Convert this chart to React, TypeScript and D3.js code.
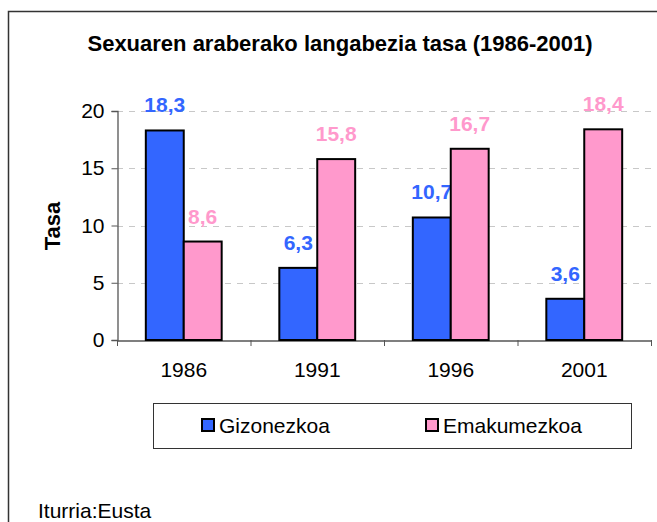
import React, { useEffect, useRef } from "react";
import * as d3 from "d3";

const years = ["1986", "1991", "1996", "2001"];
const seriesNames = ["Gizonezkoa", "Emakumezkoa"];
const gizonezkoa = [18.3, 6.3, 10.7, 3.6];
const emakumezkoa = [8.6, 15.8, 16.7, 18.4];
const yTicks = [0, 5, 10, 15, 20];
const colors = ["#3366FF", "#FF99CC"];

const W = 657;
const H = 522;
const FONT = "'Liberation Sans', Arial, sans-serif";
const FS = 21;

const App: React.FC = () => {
  const svgRef = useRef<SVGSVGElement>(null);

  useEffect(() => {
    if (!svgRef.current) return;
    const svg = d3.select(svgRef.current);
    svg.selectAll("*").remove();

    const left = 117;
    const right = 651;
    const top = 111;
    const bottom = 340;

    // outer frame (runs off the right and bottom edges)
    svg
      .append("rect")
      .attr("x", 8.5)
      .attr("y", 11.5)
      .attr("width", 700)
      .attr("height", 600)
      .attr("fill", "#fff")
      .attr("stroke", "#333")
      .attr("stroke-width", 1.5);

    const x = d3.scaleBand().domain(years).range([left, right]).paddingInner(0).paddingOuter(0);
    const inner = d3
      .scaleBand()
      .domain(seriesNames)
      .range([0, x.bandwidth()])
      .paddingOuter(0.76)
      .paddingInner(0);
    const y = d3.scaleLinear().domain([0, 20]).range([bottom, top]);

    // title
    svg
      .append("text")
      .attr("x", 340)
      .attr("y", 51)
      .attr("text-anchor", "middle")
      .attr("font-family", FONT)
      .attr("font-weight", "bold")
      .attr("font-size", 22)
      .text("Sexuaren araberako langabezia tasa (1986-2001)");

    // gridlines
    svg
      .append("g")
      .selectAll("line")
      .data(yTicks.filter((t) => t > 0))
      .join("line")
      .attr("x1", left)
      .attr("x2", right)
      .attr("y1", (d) => Math.round(y(d)) + 0.5)
      .attr("y2", (d) => Math.round(y(d)) + 0.5)
      .attr("stroke", "#c8c8c8")
      .attr("stroke-dasharray", "6,6");

    // y axis
    const yAxis = svg
      .append("g")
      .attr("transform", `translate(${left + 0.5},0)`)
      .call(d3.axisLeft(y).tickValues(yTicks).tickSize(6).tickPadding(7).tickFormat((d) => String(d)));
    yAxis.select(".domain").attr("stroke", "#555").attr("stroke-width", 1.3);
    yAxis.selectAll(".tick line").attr("stroke", "#555");
    yAxis
      .selectAll("text")
      .attr("font-family", FONT)
      .attr("font-size", FS)
      .attr("fill", "#000");

    // x axis
    const xAxis = svg
      .append("g")
      .attr("transform", `translate(0,${bottom + 0.5})`)
      .call(d3.axisBottom(x).tickSize(0).tickPadding(22));
    xAxis.select(".domain").attr("stroke", "#555").attr("stroke-width", 1.3);
    xAxis
      .selectAll("text")
      .attr("font-family", FONT)
      .attr("font-size", FS)
      .attr("fill", "#000");
    svg
      .append("g")
      .selectAll("line")
      .data([...years.map((yr) => x(yr) as number), right])
      .join("line")
      .attr("x1", (d) => d + 0.5)
      .attr("x2", (d) => d + 0.5)
      .attr("y1", bottom)
      .attr("y2", bottom + 6)
      .attr("stroke", "#555");

    // y title
    svg
      .append("text")
      .attr("transform", `translate(60,226) rotate(-90)`)
      .attr("text-anchor", "middle")
      .attr("font-family", FONT)
      .attr("font-weight", "bold")
      .attr("font-size", 22)
      .text("Tasa");

    // bars
    const series = [gizonezkoa, emakumezkoa];
    series.forEach((vals, si) => {
      const g = svg.append("g");
      g.selectAll("rect")
        .data(vals)
        .join("rect")
        .attr("x", (_, i) => (x(years[i]) as number) + (inner(seriesNames[si]) as number))
        .attr("y", (d) => y(d))
        .attr("width", inner.bandwidth())
        .attr("height", (d) => bottom - y(d))
        .attr("fill", colors[si])
        .attr("stroke", "#000")
        .attr("stroke-width", 2);
      g.selectAll("text")
        .data(vals)
        .join("text")
        .attr(
          "x",
          (_, i) => (x(years[i]) as number) + (inner(seriesNames[si]) as number) + inner.bandwidth() / 2
        )
        .attr("y", (d) => y(d) - 18)
        .attr("text-anchor", "middle")
        .attr("font-family", FONT)
        .attr("font-weight", "bold")
        .attr("font-size", FS)
        .attr("fill", colors[si])
        .text((d) => d.toFixed(1).replace(".", ","));
    });

    // legend
    svg
      .append("rect")
      .attr("x", 153.5)
      .attr("y", 403.5)
      .attr("width", 478)
      .attr("height", 45)
      .attr("fill", "#fff")
      .attr("stroke", "#333")
      .attr("stroke-width", 1);
    const legendX = [201, 425];
    seriesNames.forEach((name, i) => {
      svg
        .append("rect")
        .attr("x", legendX[i] + 1)
        .attr("y", 419)
        .attr("width", 12)
        .attr("height", 12)
        .attr("fill", colors[i])
        .attr("stroke", "#000")
        .attr("stroke-width", 2);
      svg
        .append("text")
        .attr("x", legendX[i] + 18)
        .attr("y", 433)
        .attr("font-family", FONT)
        .attr("font-size", FS)
        .text(name);
    });

    // source note
    svg
      .append("text")
      .attr("x", 38)
      .attr("y", 518)
      .attr("font-family", FONT)
      .attr("font-size", FS)
      .text("Iturria:Eusta");
  }, []);

  return (
    <svg
      ref={svgRef}
      width={W}
      height={H}
      style={{ position: "absolute", left: 0, top: 0, background: "#fff" }}
    />
  );
};

export default App;
